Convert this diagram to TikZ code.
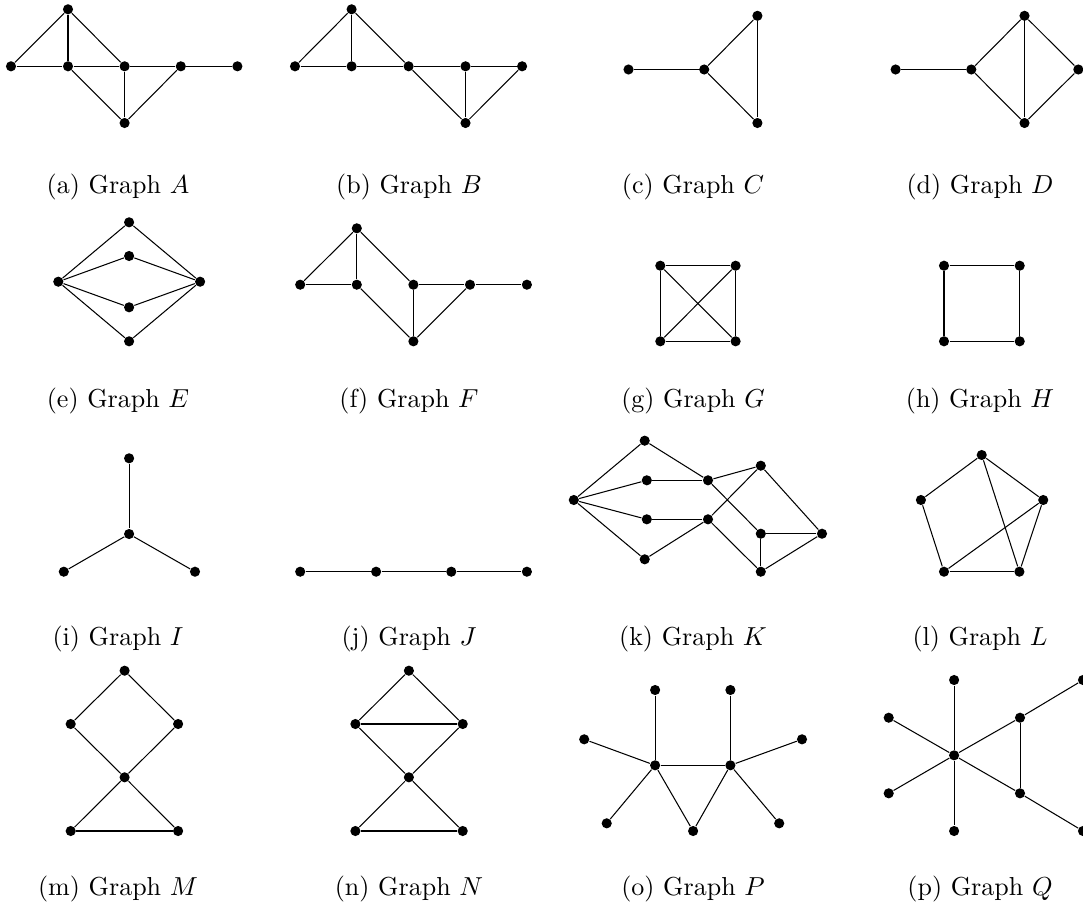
\documentclass[tikz,border=0pt]{standalone}
\begin{document}
\begin{tikzpicture}[x=0.3846pt,y=-0.3846pt,
  v/.style={circle,fill=black,inner sep=0pt,minimum size=3.9pt},
  ln/.style={line width=0.4pt},
  capt/.style={anchor=base,inner sep=0pt}]
\useasboundingbox (0,0) rectangle (1083,911);
\clip (0,0) rectangle (1083,911);
% ---------- Graph A
\foreach \n/\x/\y in {a1/68/9.3,a2/11/66.3,a3/68/66.3,a4/124.6/66.3,a5/180.8/66.3,a6/237.4/66.3,a7/124.6/123}
  \node[v] (\n) at (\x,\y) {};
\foreach \p/\q in {a2/a1,a1/a3,a1/a4,a2/a3,a3/a4,a4/a5,a5/a6,a3/a7,a4/a7,a5/a7}
  \draw[ln] (\p) -- (\q);
% ---------- Graph B
\foreach \n/\x/\y in {b1/351.6/9.3,b2/295/66.3,b3/351.6/66.3,b4/408.6/66.3,b5/465.5/66.3,b6/522.1/66.3,b7/465.5/123}
  \node[v] (\n) at (\x,\y) {};
\foreach \p/\q in {b2/b1,b1/b3,b1/b4,b2/b3,b3/b4,b4/b5,b5/b6,b4/b7,b5/b7,b6/b7}
  \draw[ln] (\p) -- (\q);
% ---------- Graph C
\foreach \n/\x/\y in {c1/628.5/69.5,c2/704.2/69.5,c3/757.4/15.8,c4/757.4/123}
  \node[v] (\n) at (\x,\y) {};
\foreach \p/\q in {c1/c2,c2/c3,c2/c4,c3/c4}
  \draw[ln] (\p) -- (\q);
% ---------- Graph D
\foreach \n/\x/\y in {d1/895.6/69.5,d2/971.3/69.5,d3/1024.5/15.8,d4/1024.5/123,d5/1078.3/69.5}
  \node[v] (\n) at (\x,\y) {};
\foreach \p/\q in {d1/d2,d2/d3,d2/d4,d3/d4,d3/d5,d4/d5}
  \draw[ln] (\p) -- (\q);
% ---------- Graph E
\foreach \n/\x/\y in {e1/129.1/222.3,e2/129.1/256,e3/58.3/281.7,e4/200.1/281.7,e5/129.1/307.3,e6/129.1/341.3}
  \node[v] (\n) at (\x,\y) {};
\foreach \p/\q in {e3/e1,e1/e4,e3/e2,e2/e4,e3/e5,e5/e4,e3/e6,e6/e4}
  \draw[ln] (\p) -- (\q);
% ---------- Graph F
\foreach \n/\x/\y in {f1/356.8/228.3,f2/300.2/284.7,f3/356.8/284.7,f4/413.4/284.7,f5/470/284.7,f6/526.9/284.7,f7/413.4/341.3}
  \node[v] (\n) at (\x,\y) {};
\foreach \p/\q in {f2/f1,f1/f3,f1/f4,f2/f3,f3/f7,f4/f7,f4/f5,f5/f6,f7/f5}
  \draw[ln] (\p) -- (\q);
% ---------- Graph G
\foreach \n/\x/\y in {g1/660.3/265.7,g2/735.6/265.7,g3/660.3/341.3,g4/735.6/341.3}
  \node[v] (\n) at (\x,\y) {};
\foreach \p/\q in {g1/g2,g1/g3,g1/g4,g2/g3,g2/g4,g3/g4}
  \draw[ln] (\p) -- (\q);
% ---------- Graph H
\foreach \n/\x/\y in {h1/944/265.7,h2/1019.7/265.7,h3/944/341.3,h4/1019.7/341.3}
  \node[v] (\n) at (\x,\y) {};
\foreach \p/\q in {h1/h2,h2/h4,h4/h3,h3/h1}
  \draw[ln] (\p) -- (\q);
% ---------- Graph I
\foreach \n/\x/\y in {i1/129.1/458.3,i2/129.1/534,i3/63.8/571.7,i4/195/571.7}
  \node[v] (\n) at (\x,\y) {};
\foreach \p/\q in {i1/i2,i2/i3,i2/i4}
  \draw[ln] (\p) -- (\q);
% ---------- Graph J
\foreach \n/\x/\y in {j1/300.2/571.7,j2/376.1/571.7,j3/451.3/571.7,j4/526.9/571.7}
  \node[v] (\n) at (\x,\y) {};
\foreach \p/\q in {j1/j2,j2/j3,j3/j4}
  \draw[ln] (\p) -- (\q);
% ---------- Graph K
\foreach \n/\x/\y in {k1/644.7/440.7,k2/646.8/480.3,k3/573.8/500,k4/646.8/519.3,k5/644.7/559.3,
  k6/708/480.3,k7/708/519.3,k8/760.8/465.7,k9/760.8/533.7,k10/822/533.7,k11/760.8/571.7}
  \node[v] (\n) at (\x,\y) {};
\foreach \p/\q in {k3/k1,k3/k2,k3/k4,k3/k5,k1/k6,k2/k6,k4/k7,k5/k7,k6/k8,k7/k8,k6/k9,k7/k11,k8/k10,k9/k10,k9/k11,k11/k10}
  \draw[ln] (\p) -- (\q);
% ---------- Graph L
\foreach \n/\x/\y in {l1/981.7/455,l2/920.9/500,l3/1043.2/500,l4/944/571.7,l5/1019.4/571.7}
  \node[v] (\n) at (\x,\y) {};
\foreach \p/\q in {l1/l2,l1/l3,l2/l4,l4/l5,l5/l3,l1/l5,l4/l3}
  \draw[ln] (\p) -- (\q);
% ---------- Graph M
\foreach \n/\x/\y in {m1/124.6/670.7,m2/70.7/724,m3/178.1/724,m4/124.6/777.3,m5/70.7/831,m6/178.1/831}
  \node[v] (\n) at (\x,\y) {};
\foreach \p/\q in {m1/m2,m1/m3,m2/m4,m3/m4,m4/m5,m4/m6,m5/m6}
  \draw[ln] (\p) -- (\q);
% ---------- Graph N
\foreach \n/\x/\y in {n1/408.9/670.7,n2/355.4/724,n3/462.7/724,n4/408.9/777.3,n5/355.4/831,n6/462.7/831}
  \node[v] (\n) at (\x,\y) {};
\foreach \p/\q in {n1/n2,n1/n3,n2/n3,n2/n4,n3/n4,n4/n5,n4/n6,n5/n6}
  \draw[ln] (\p) -- (\q);
% ---------- Graph P
\foreach \n/\x/\y in {p1/655.1/690,p2/730.4/690,p3/584.2/739.3,p4/802/739.3,p5/655.1/765.3,p6/730.4/765.3,
  p7/606.7/823.3,p8/693.1/831,p9/779.2/823.3}
  \node[v] (\n) at (\x,\y) {};
\foreach \p/\q in {p5/p1,p5/p3,p5/p7,p5/p8,p5/p6,p6/p2,p6/p4,p6/p9,p6/p8}
  \draw[ln] (\p) -- (\q);
% ---------- Graph Q
\foreach \n/\x/\y in {q1/954.1/680,q2/888.7/717.7,q3/954.1/755.3,q4/888.7/793.3,q5/954.1/831,
  q6/1020/717.7,q7/1020/793.3,q8/1083/680,q9/1083/831}
  \node[v] (\n) at (\x,\y) {};
\foreach \p/\q in {q3/q1,q3/q5,q3/q2,q3/q4,q3/q6,q3/q7,q6/q7,q6/q8,q7/q9}
  \draw[ln] (\p) -- (\q);
% ---------- captions
\node[capt] (ca) at (118,193) {(a) Graph $A$};
\node[capt] (cb) at (409,193) {(b) Graph $B$};
\node[capt] (cc) at (693,193) {(c) Graph $C$};
\node[capt] (cd) at (980,193) {(d) Graph $D$};
\node[capt] (ce) at (118,407) {(e) Graph $E$};
\node[capt] (cf) at (409,407) {(f) Graph $F$};
\node[capt] (cg) at (693,407) {(g) Graph $G$};
\node[capt] (ch) at (980,407) {(h) Graph $H$};
\node[capt] (ci) at (118,645) {(i) Graph $I$};
\node[capt] (cj) at (409,645) {(j) Graph $J$};
\node[capt] (ck) at (693,645) {(k) Graph $K$};
\node[capt] (cl) at (980,645) {(l) Graph $L$};
\node[capt] (cm) at (118,895) {(m) Graph $M$};
\node[capt] (cn) at (409,895) {(n) Graph $N$};
\node[capt] (co) at (693,895) {(o) Graph $P$};
\node[capt] (cp) at (980,895) {(p) Graph $Q$};
\end{tikzpicture}
\end{document}
